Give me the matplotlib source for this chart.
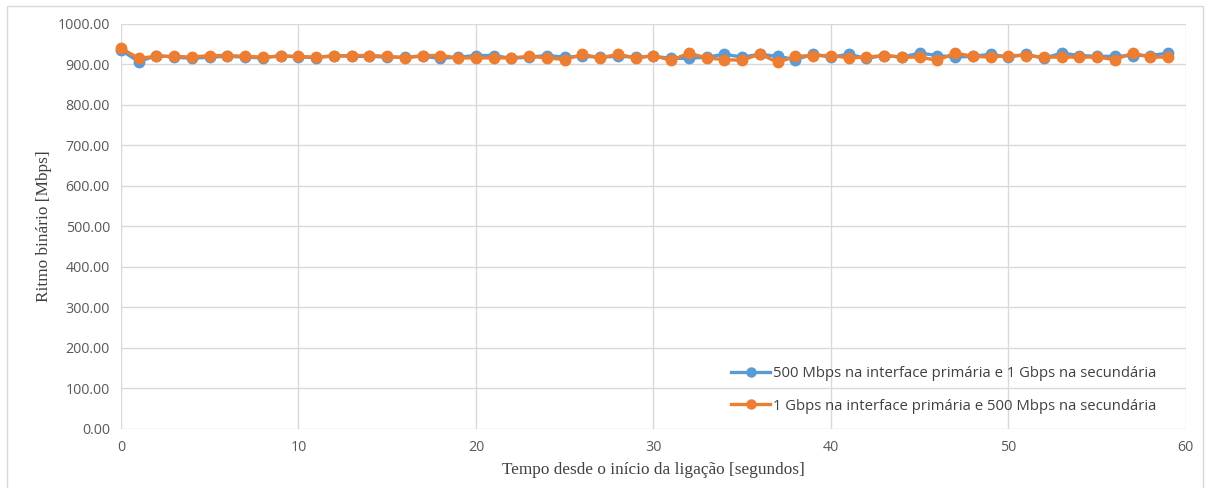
import matplotlib.pyplot as plt
from matplotlib.patches import Rectangle
from matplotlib.ticker import FormatStrFormatter

# tempo (s) e ritmo binário (Mbps)
segundos = list(range(60))

ritmo_500_1g = [935, 907, 922, 918, 915, 918, 920, 918, 916, 922,
                918, 917, 922, 920, 920, 918, 918, 920, 915, 918,
                922, 922, 915, 918, 922, 918, 920, 918, 920, 918,
                920, 915, 915, 918, 925, 918, 925, 920, 912, 925,
                918, 925, 915, 922, 918, 928, 922, 918, 920, 925,
                918, 925, 915, 928, 922, 920, 920, 922, 922, 928]

ritmo_1g_500 = [940, 915, 920, 920, 918, 922, 922, 920, 918, 920,
                920, 918, 920, 922, 922, 920, 916, 922, 922, 916,
                916, 916, 916, 920, 916, 912, 925, 916, 925, 916,
                922, 910, 928, 916, 912, 910, 926, 905, 920, 922,
                922, 916, 918, 922, 918, 918, 910, 928, 920, 918,
                922, 922, 918, 918, 918, 918, 912, 928, 918, 918]

nomes = ["500 Mbps na interface primária e 1 Gbps na secundária",
         "1 Gbps na interface primária e 500 Mbps na secundária"]
cores = ["#5B9BD5", "#ED7D31"]

yticks = list(range(0, 1001, 100))
xticks = list(range(0, 61, 10))

fig = plt.figure(figsize=(12.10, 4.88), dpi=100)
ax = fig.add_axes([0.100, 0.121, 0.880, 0.830])

# moldura cinzenta da área do gráfico
fig.patches.append(Rectangle((7 / 1210, -0.01), 1196 / 1210, 1 - 6 / 488 + 0.01,
                             transform=fig.transFigure, fill=False,
                             edgecolor="#d9d9d9", linewidth=1.0))

for valores, nome, cor in zip([ritmo_500_1g, ritmo_1g_500], nomes, cores):
    ax.plot(segundos, valores, color=cor, linewidth=2.4, marker="o",
            markersize=7.5, label=nome, zorder=3, clip_on=False)

ax.set_xlim(0, 60)
ax.set_ylim(0, 1000)
ax.set_xticks(xticks)
ax.set_yticks(yticks)
ax.yaxis.set_major_formatter(FormatStrFormatter("%.2f"))
ax.grid(True, color="#d9d9d9", linewidth=1.0)
ax.set_axisbelow(True)
for s in ax.spines.values():
    s.set_visible(False)
ax.tick_params(length=0, labelcolor="#595959", pad=8)
for lbl in ax.get_xticklabels() + ax.get_yticklabels():
    lbl.set_family("Open Sans")
    lbl.set_fontsize(10.3)

ax.set_xlabel("Tempo desde o início da ligação [segundos]", family="Liberation Serif",
              fontsize=12.4, color="#404040", labelpad=5)
ax.set_ylabel("Ritmo binário [Mbps]", family="Liberation Serif",
              fontsize=12.4, color="#404040", labelpad=4)

leg = ax.legend(loc="lower right", bbox_to_anchor=(0.985, 0.005), frameon=False,
                handlelength=2.6, handletextpad=0.2, labelspacing=1.15,
                prop={"family": "Open Sans", "size": 10.7})
for t in leg.get_texts():
    t.set_color("#404040")
for h in leg.legend_handles:
    h.set_markersize(6.5)

fig.savefig("out.png", dpi=100)
